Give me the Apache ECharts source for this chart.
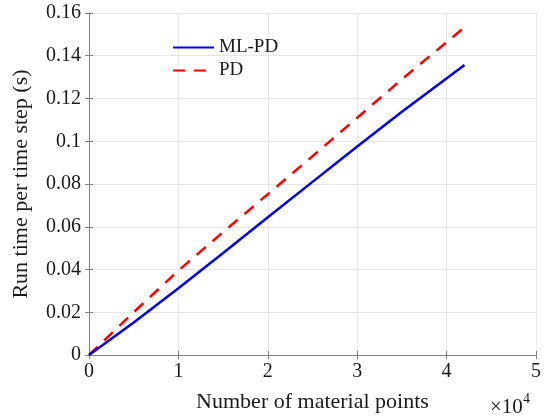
<!DOCTYPE html>
<html>
<head>
<meta charset="utf-8">
<script src="https://cdn.jsdelivr.net/npm/echarts@6/dist/echarts.min.js"></script>
<style>html,body{margin:0;padding:0;background:#fff}#c{width:544px;height:418px}</style>
</head>
<body>
<div id="c"></div>
<script>
const xPoints = [0, 5000, 10000, 15000, 20000, 25000, 30000, 35000, 42000];
const mlpdTime = [0, 0.0152, 0.0312, 0.0477, 0.0644, 0.0810, 0.0975, 0.1138, 0.1357];
const pdTime   = [0, 0.0200, 0.0395, 0.0575, 0.0752, 0.0930, 0.1110, 0.1290, 0.1533];
const seriesNames = ['ML-PD', 'PD'];
const xTicks = [0, 1, 2, 3, 4, 5];
const yTicks = [0, 0.02, 0.04, 0.06, 0.08, 0.1, 0.12, 0.14, 0.16];

const FONT = 'Liberation Serif, Times New Roman, serif';
const chart = echarts.init(document.getElementById('c'), null, {renderer: 'canvas'});
const axisLineStyle = {color: '#808080', width: 1};
const option = {
  backgroundColor: '#fff',
  animation: false,
  textStyle: {fontFamily: FONT},
  grid: {left: 89, right: 5, top: 13, bottom: 63, containLabel: false},
  legend: {
    orient: 'vertical', left: 167, top: 33,
    itemWidth: 41, itemHeight: 14, itemGap: 4,
    itemStyle: {opacity: 0},
    textStyle: {fontFamily: FONT, fontSize: 19, color: '#1a1a1a'},
    data: seriesNames
  },
  xAxis: [{
    type: 'value', min: 0, max: 50000, interval: 10000,
    name: 'Number of material points', nameLocation: 'middle', nameGap: 36,
    nameTextStyle: {fontFamily: FONT, fontSize: 22, color: '#1a1a1a'},
    axisLine: {show: true, lineStyle: axisLineStyle},
    axisTick: {show: true, inside: true, length: 4, lineStyle: axisLineStyle},
    axisLabel: {fontFamily: FONT, fontSize: 20, color: '#1a1a1a', margin: 7,
      formatter: v => String(xTicks[Math.round(v / 10000)])},
    splitLine: {show: true, lineStyle: {color: '#e6e6e6', width: 1}}
  }, {
    type: 'value', position: 'top', min: 0, max: 50000, interval: 10000,
    axisLine: {show: true, lineStyle: axisLineStyle},
    axisTick: {show: true, inside: true, length: 4, lineStyle: axisLineStyle},
    axisLabel: {show: false}, splitLine: {show: false}
  }],
  yAxis: [{
    type: 'value', min: 0, max: 0.16, interval: 0.02,
    name: 'Run time per time step (s)', nameLocation: 'middle', nameGap: 57,
    nameTextStyle: {fontFamily: FONT, fontSize: 22, color: '#1a1a1a'},
    axisLine: {show: true, lineStyle: axisLineStyle},
    axisTick: {show: true, inside: true, length: 4, lineStyle: axisLineStyle},
    axisLabel: {fontFamily: FONT, fontSize: 20, color: '#1a1a1a', margin: 8,
      formatter: v => { const t = yTicks.find(y => Math.abs(y - v) < 1e-9); return t === undefined ? '' : String(t); }},
    splitLine: {show: true, lineStyle: {color: '#e6e6e6', width: 1}}
  }, {
    type: 'value', position: 'right', min: 0, max: 0.16, interval: 0.02,
    axisLine: {show: true, lineStyle: axisLineStyle},
    axisTick: {show: true, inside: true, length: 4, lineStyle: axisLineStyle},
    axisLabel: {show: false}, splitLine: {show: false}
  }],
  graphic: [{
    type: 'text', left: 490, top: 397,
    style: {text: '×10', font: '21px ' + FONT, fill: '#1a1a1a'}
  }, {
    type: 'text', left: 523, top: 392,
    style: {text: '4', font: '14px ' + FONT, fill: '#1a1a1a'}
  }],
  series: [{
    name: seriesNames[0], type: 'line', showSymbol: false, symbol: 'none',
    data: xPoints.map((x, i) => [x, mlpdTime[i]]),
    lineStyle: {color: '#0000ff', width: 2.5}, itemStyle: {color: '#0000ff'}, z: 3
  }, {
    name: seriesNames[1], type: 'line', showSymbol: false, symbol: 'none',
    data: xPoints.map((x, i) => [x, pdTime[i]]),
    lineStyle: {color: '#ff0000', width: 2.5, type: [12, 9]}, itemStyle: {color: '#ff0000'}, z: 2
  }]
};
chart.setOption(option);
</script>
</body>
</html>
